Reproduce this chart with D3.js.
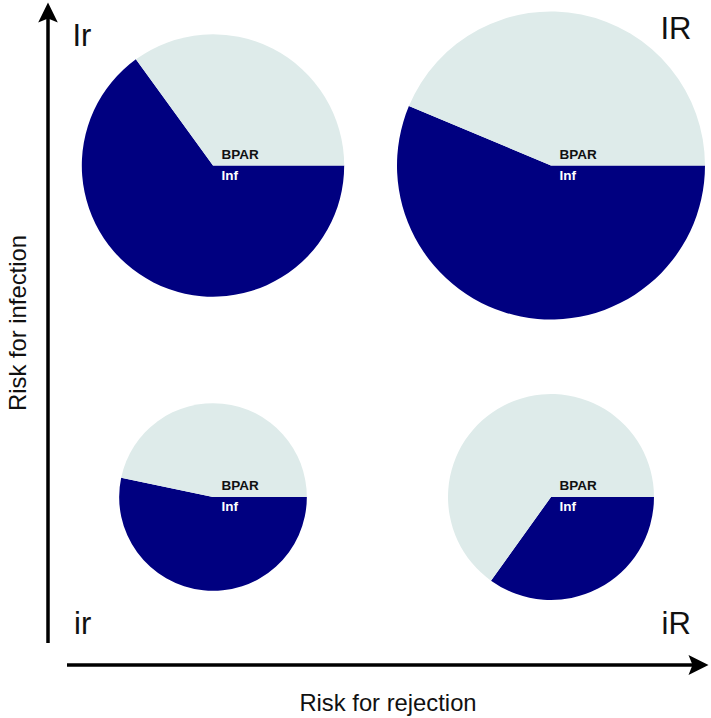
<!DOCTYPE html>
<html>
<head>
<meta charset="utf-8">
<script src="https://cdn.jsdelivr.net/npm/d3@7"></script>
<style>
  html, body { margin: 0; padding: 0; background: #fff; }
  svg { display: block; font-family: "Liberation Sans", Arial, Helvetica, sans-serif; }
</style>
</head>
<body>
<svg id="chart" width="711" height="718"></svg>
<script>
// ---- data ----
const quadrants     = ["Ir", "IR", "ir", "iR"];
const rejectionRisk = ["low", "high", "low", "high"];
const infectionRisk = ["high", "high", "low", "low"];
const infShare      = [65, 56.3, 53.3, 34.9];   // % Inf (dark slice)
const bparShare     = [35, 43.7, 46.7, 65.1];   // % BPAR (light slice)
const totalSize     = [17.2, 23.7, 8.8, 10.6];  // relative pie size (area)
const sliceNames    = ["Inf", "BPAR"];
const axisTitles    = ["Risk for rejection", "Risk for infection"];

// ---- layout ----
const svg = d3.select("#chart");

const x = d3.scalePoint().domain(["low", "high"]).range([213, 551]);
const y = d3.scalePoint().domain(["high", "low"]).range([165.5, 497]);
const r = d3.scaleSqrt().domain([0, d3.max(totalSize)]).range([0, 154]);
const color = d3.scaleOrdinal().domain(sliceNames).range(["#000080", "#deebea"]);

const pie = d3.pie()
  .sort(null)
  .value(d => d.value)
  .startAngle(Math.PI / 2)
  .endAngle(Math.PI / 2 + 2 * Math.PI);

const pies = quadrants.map((q, i) => ({
  name: q,
  cx: x(rejectionRisk[i]),
  cy: y(infectionRisk[i]),
  radius: r(totalSize[i]),
  slices: [
    { key: "Inf", value: infShare[i] },
    { key: "BPAR", value: bparShare[i] }
  ]
}));

const g = svg.selectAll("g.pie").data(pies).join("g")
  .attr("class", "pie")
  .attr("transform", d => `translate(${d.cx},${d.cy})`);

g.each(function(d) {
  const arc = d3.arc().innerRadius(0).outerRadius(d.radius);
  d3.select(this).selectAll("path")
    .data(pie(d.slices))
    .join("path")
    .attr("d", arc)
    .attr("fill", s => color(s.data.key));
});

g.append("text")
  .attr("x", 8.5).attr("y", -7)
  .attr("font-size", 13.5).attr("font-weight", "bold")
  .attr("fill", "#111")
  .text("BPAR");

g.append("text")
  .attr("x", 8.5).attr("y", 14)
  .attr("font-size", 13.5).attr("font-weight", "bold")
  .attr("fill", "#fff")
  .text("Inf");

// ---- axes (arrows) ----
svg.append("line")
  .attr("x1", 48).attr("y1", 643).attr("x2", 48).attr("y2", 16)
  .attr("stroke", "#000").attr("stroke-width", 3.5);
svg.append("path")
  .attr("d", "M48,2.5 L57.8,22.5 L48,18.5 L38.2,22.5 Z")
  .attr("fill", "#000");

svg.append("line")
  .attr("x1", 67).attr("y1", 665).attr("x2", 694).attr("y2", 665)
  .attr("stroke", "#000").attr("stroke-width", 3.5);
svg.append("path")
  .attr("d", "M708.5,665 L688.5,655 L692.5,665 L688.5,675 Z")
  .attr("fill", "#000");

// axis titles
svg.append("text")
  .attr("x", 388).attr("y", 711)
  .attr("text-anchor", "middle")
  .attr("font-size", 23.8)
  .attr("fill", "#111")
  .text(axisTitles[0]);

svg.append("text")
  .attr("transform", "translate(26,323) rotate(-90)")
  .attr("text-anchor", "middle")
  .attr("font-size", 23.8)
  .attr("fill", "#111")
  .text(axisTitles[1]);

// quadrant corner labels
const cornerPos = {
  "Ir": [72.5, 46],
  "IR": [660.5, 38.5],
  "ir": [74, 633.5],
  "iR": [661.5, 633.5]
};
svg.selectAll("text.corner").data(quadrants).join("text")
  .attr("class", "corner")
  .attr("x", d => cornerPos[d][0])
  .attr("y", d => cornerPos[d][1])
  .attr("font-size", 31)
  .attr("fill", "#111")
  .text(d => d);
</script>
</body>
</html>
